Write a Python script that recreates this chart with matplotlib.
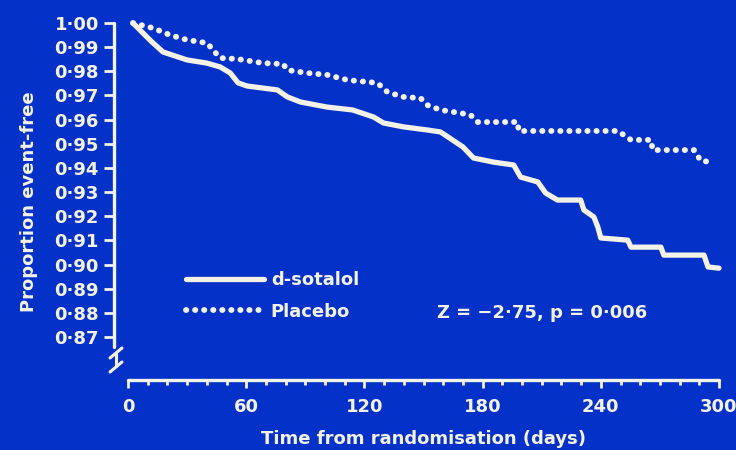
import matplotlib
matplotlib.use("Agg")
import matplotlib.pyplot as plt
from matplotlib.lines import Line2D
from matplotlib.ticker import MultipleLocator, FixedLocator

# Kaplan-Meier style curves (days, proportion event-free)
sotalol_days = [2.5, 12.2, 17.8, 30, 40, 46.8, 51.9, 55.9, 60.5, 75.8, 80.9, 87.5,
                101, 114, 124.6, 129.7, 139.8, 152, 158.6, 170, 175.4, 185.6, 195.8,
                199.3, 208, 212, 218, 229.8, 231.4, 236.5, 238.5, 240, 253.7, 255.3,
                270.5, 272, 292.4, 294.4, 300]
sotalol_surv = [1.000, 0.9921, 0.988, 0.9847, 0.9834, 0.9818, 0.9793, 0.9752, 0.9739,
                0.9723, 0.9694, 0.9673, 0.9652, 0.964, 0.9611, 0.9586, 0.957, 0.9557,
                0.9549, 0.9487, 0.9441, 0.9424, 0.9412, 0.9362, 0.9342, 0.9296, 0.9267,
                0.9267, 0.9226, 0.9197, 0.9155, 0.911, 0.9101, 0.9072, 0.9072, 0.9039,
                0.9039, 0.899, 0.8985]

placebo_days = [2.5, 12.7, 21.4, 30, 40.2, 43.2, 46.8, 55.4, 68.6, 78.8, 80.9, 91,
                101.2, 111.4, 121.5, 126.6, 131.7, 139.8, 148.5, 152, 158.6, 168.8,
                173.9, 177.5, 197.8, 198.3, 248.7, 255.3, 265.4, 266.4, 287.3, 290.8,
                297.5]
placebo_surv = [1.000, 0.9979, 0.995, 0.993, 0.9917, 0.9888, 0.9855, 0.9851, 0.9834,
                0.983, 0.9805, 0.9793, 0.9785, 0.9764, 0.9756, 0.9752, 0.9714, 0.9694,
                0.9689, 0.966, 0.964, 0.9627, 0.9619, 0.959, 0.959, 0.9553, 0.9553,
                0.9516, 0.9516, 0.9474, 0.9474, 0.9429, 0.9424]

y_ticks = [1.00, 0.99, 0.98, 0.97, 0.96, 0.95, 0.94, 0.93, 0.92, 0.91, 0.90, 0.89, 0.88, 0.87]
x_ticks = [0, 60, 120, 180, 240, 300]

bg = "#0432C8"
fg = "#F4F1E6"
dotted = (0, (0.05, 1.5))
plt.rcParams["font.family"] = "DejaVu Sans"
plt.rcParams["font.weight"] = "bold"

W, H = 736, 450
fig = plt.figure(figsize=(W / 100, H / 100), dpi=100, facecolor=bg)
ax = fig.add_axes([128 / W, 1 - 380 / H, 591 / W, 357 / H])
ax.set_facecolor(bg)

ax.plot(sotalol_days, sotalol_surv, color=fg, lw=3.8, solid_capstyle="round",
        solid_joinstyle="round", clip_on=False)
ax.plot(placebo_days, placebo_surv, color=fg, lw=4.2, linestyle=dotted,
        dash_capstyle="round", clip_on=False)

ax.set_xlim(0, 300)
ax.set_ylim(0.8522, 1.0)

for s in ["top", "right"]:
    ax.spines[s].set_visible(False)
ax.spines["left"].set_position(("outward", 10))
ax.spines["left"].set_bounds(0.8658, 1.0)
for s in ["left", "bottom"]:
    ax.spines[s].set_color(fg)
    ax.spines[s].set_linewidth(2.4)
    ax.spines[s].set_capstyle("round")

ax.yaxis.set_major_locator(FixedLocator(y_ticks))
ax.set_yticklabels([f"{v:.2f}".replace(".", "\u00b7") for v in y_ticks])
ax.xaxis.set_major_locator(FixedLocator(x_ticks))
ax.xaxis.set_minor_locator(MultipleLocator(10))
ax.tick_params(axis="y", colors=fg, length=7, width=2, pad=4, labelsize=13)
ax.tick_params(axis="x", which="major", colors=fg, length=6, width=2, pad=7, labelsize=13)
ax.tick_params(axis="x", which="minor", colors=fg, length=3.5, width=2)
for lab in ax.get_xticklabels() + ax.get_yticklabels():
    lab.set_fontweight("bold")


def px_line(xs, ys):
    # short decoration given in pixel coordinates from the top-left corner
    fig.add_artist(Line2D([x / W for x in xs], [1 - y / H for y in ys], color=fg,
                          lw=2.2, solid_capstyle="round", transform=fig.transFigure))


# broken y axis
px_line([110, 122], [358, 348])
px_line([116, 116], [354, 366])
px_line([110, 122], [372, 362])

ax.set_ylabel("Proportion event-free", color=fg, fontsize=13, fontweight="bold", labelpad=12)
ax.set_xlabel("Time from randomisation (days)", color=fg, fontsize=13, fontweight="bold",
              labelpad=10)

handles = [Line2D([], [], color=fg, lw=3.8, solid_capstyle="round"),
           Line2D([], [], color=fg, lw=4.2, linestyle=dotted, dash_capstyle="round")]
leg = fig.legend(handles, ["d-sotalol", "Placebo"], loc="upper left",
                 bbox_to_anchor=(186 / W, 1 - 271 / H), frameon=False, handlelength=4.3,
                 handletextpad=0.4, labelspacing=0.75, borderpad=0, borderaxespad=0,
                 prop=dict(size=13, weight="bold"))
for t in leg.get_texts():
    t.set_color(fg)

ax.text(157, 0.88, "Z = \u22122\u00b775, p = 0\u00b7006", color=fg, fontsize=13,
        fontweight="bold", va="center", ha="left")

fig.savefig("out.png", dpi=100, facecolor=bg)
